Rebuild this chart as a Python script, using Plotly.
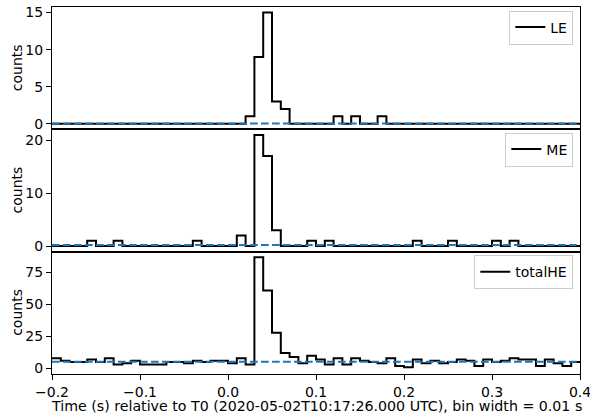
import numpy as np
import plotly.graph_objects as go
from plotly.subplots import make_subplots

# ---- data ----
bin_start = -0.2
bin_width = 0.01

le_counts = [0]*22 + [1, 9, 15, 3, 2] + [0]*5 + [1, 0, 1, 0, 0, 1] + [0]*22

me_counts = [0, 0, 0, 0, 1, 0, 0, 1, 0, 0,
             0, 0, 0, 0, 0, 0, 1, 0, 0, 0,
             0, 2, 0, 21, 17, 3, 0, 0, 0, 1,
             0, 1, 0, 0, 0, 0, 0, 0, 0, 0,
             0, 1, 0, 0, 0, 1, 0, 0, 0, 0,
             1, 0, 1, 0, 0, 0, 0, 0, 0, 0]

he_counts = [8, 6, 5, 5, 7, 5, 8, 3, 4, 6,
             3, 3, 3, 5, 5, 4, 6, 5, 6, 6,
             4, 8, 3, 87, 61, 28, 12, 9, 4, 10,
             7, 3, 8, 3, 8, 6, 5, 4, 8, 2,
             1, 7, 4, 6, 4, 5, 7, 6, 2, 7,
             5, 6, 8, 7, 7, 2, 7, 4, 2, 5]

backgrounds = [0.05, 0.2, 5.2]
names = ["LE", "ME", "totalHE"]
series = [le_counts, me_counts, he_counts]

y_ranges = [[-0.75, 15.75], [-1.05, 22.05], [-4.35, 91.35]]
y_ticks = [[0, 5, 10, 15], [0, 10, 20], [0, 25, 50, 75]]
x_ticks = [-0.2, -0.1, 0.0, 0.1, 0.2, 0.3, 0.4]
x_ticklabels = ["\u22120.2", "\u22120.1", "0.0", "0.1", "0.2", "0.3", "0.4"]
x_range = [-0.2000001, 0.4000001]

x_title = "Time (s) relative to T0 (2020-05-02T10:17:26.000 UTC), bin width = 0.01 s"
y_title = "counts"

FONT = "DejaVu Sans"
FS = 14

fig = make_subplots(rows=3, cols=1, shared_xaxes=True, vertical_spacing=0)

legend_keys = ["legend", "legend2", "legend3"]
for i, (name, cnts, bg) in enumerate(zip(names, series, backgrounds)):
    n = len(cnts)
    edges = bin_start + bin_width * np.arange(n + 1)
    yy = list(cnts) + [cnts[-1]]
    fig.add_trace(go.Scatter(x=edges, y=yy, mode="lines", line_shape="hv",
                             line=dict(color="black", width=2), name=name,
                             legend=legend_keys[i], showlegend=True),
                  row=i + 1, col=1)
    fig.add_trace(go.Scatter(x=[edges[0], edges[-1]], y=[bg, bg], mode="lines",
                             line=dict(color="#1f77b4", width=2, dash="7.7px,3.3px"),
                             showlegend=False, hoverinfo="skip"),
                  row=i + 1, col=1)

L, R, T, B = 52, 10, 7, 40
W, H = 590, 414
pw = W - L - R
ph = H - T - B

for i in range(3):
    fig.update_yaxes(row=i + 1, col=1, range=y_ranges[i], tickvals=y_ticks[i],
                     automargin=False,
                     showline=True, mirror=True, linecolor="black", linewidth=1,
                     ticks="outside", ticklen=5, tickwidth=1, tickcolor="black",
                     showgrid=False, zeroline=False,
                     tickfont=dict(family=FONT, size=FS, color="black"))
    fig.update_xaxes(row=i + 1, col=1, range=x_range, tickvals=x_ticks,
                     ticktext=x_ticklabels, automargin=False,
                     ticklabeloverflow="allow",
                     showline=True, mirror=True, linecolor="black", linewidth=1,
                     ticks="outside" if i == 2 else "", ticklen=5, tickwidth=1,
                     tickcolor="black", showticklabels=(i == 2),
                     showgrid=False, zeroline=False,
                     tickfont=dict(family=FONT, size=FS, color="black"))

def py(pix):
    return (H - B - pix) / ph

def px(pix):
    return (pix - L) / pw

leg_common = dict(xanchor="right", yanchor="middle", bgcolor="rgba(255,255,255,0.8)",
                  bordercolor="#cccccc", borderwidth=1, itemwidth=30,
                  font=dict(family=FONT, size=FS, color="black"))
fig.update_layout(
    legend=dict(x=px(573.3), y=py(27.5), **leg_common),
    legend2=dict(x=px(573.3), y=py(149.5), **leg_common),
    legend3=dict(x=px(573.3), y=py(272.2), **leg_common),
)

annotations = []
for i in range(3):
    top_pix = T + ph * i / 3
    center = top_pix + ph / 6
    annotations.append(dict(text=y_title, xref="paper", yref="paper",
                            x=px(17), y=py(center), xanchor="center", yanchor="middle",
                            textangle=-90, showarrow=False,
                            font=dict(family=FONT, size=FS, color="black")))
annotations.append(dict(text=x_title, xref="paper", yref="paper",
                        x=px(316.3), y=py(405.5), xanchor="center", yanchor="middle",
                        showarrow=False, font=dict(family=FONT, size=14.2, color="black")))

fig.update_layout(width=W, height=H, margin=dict(l=L, r=R, t=T, b=B, autoexpand=False),
                  paper_bgcolor="white", plot_bgcolor="white",
                  font=dict(family=FONT, size=FS, color="black"),
                  annotations=annotations)

fig.write_html("out.html", config={"displayModeBar": False},
               post_script="document.body.style.margin='0';document.body.style.overflow='hidden';")
